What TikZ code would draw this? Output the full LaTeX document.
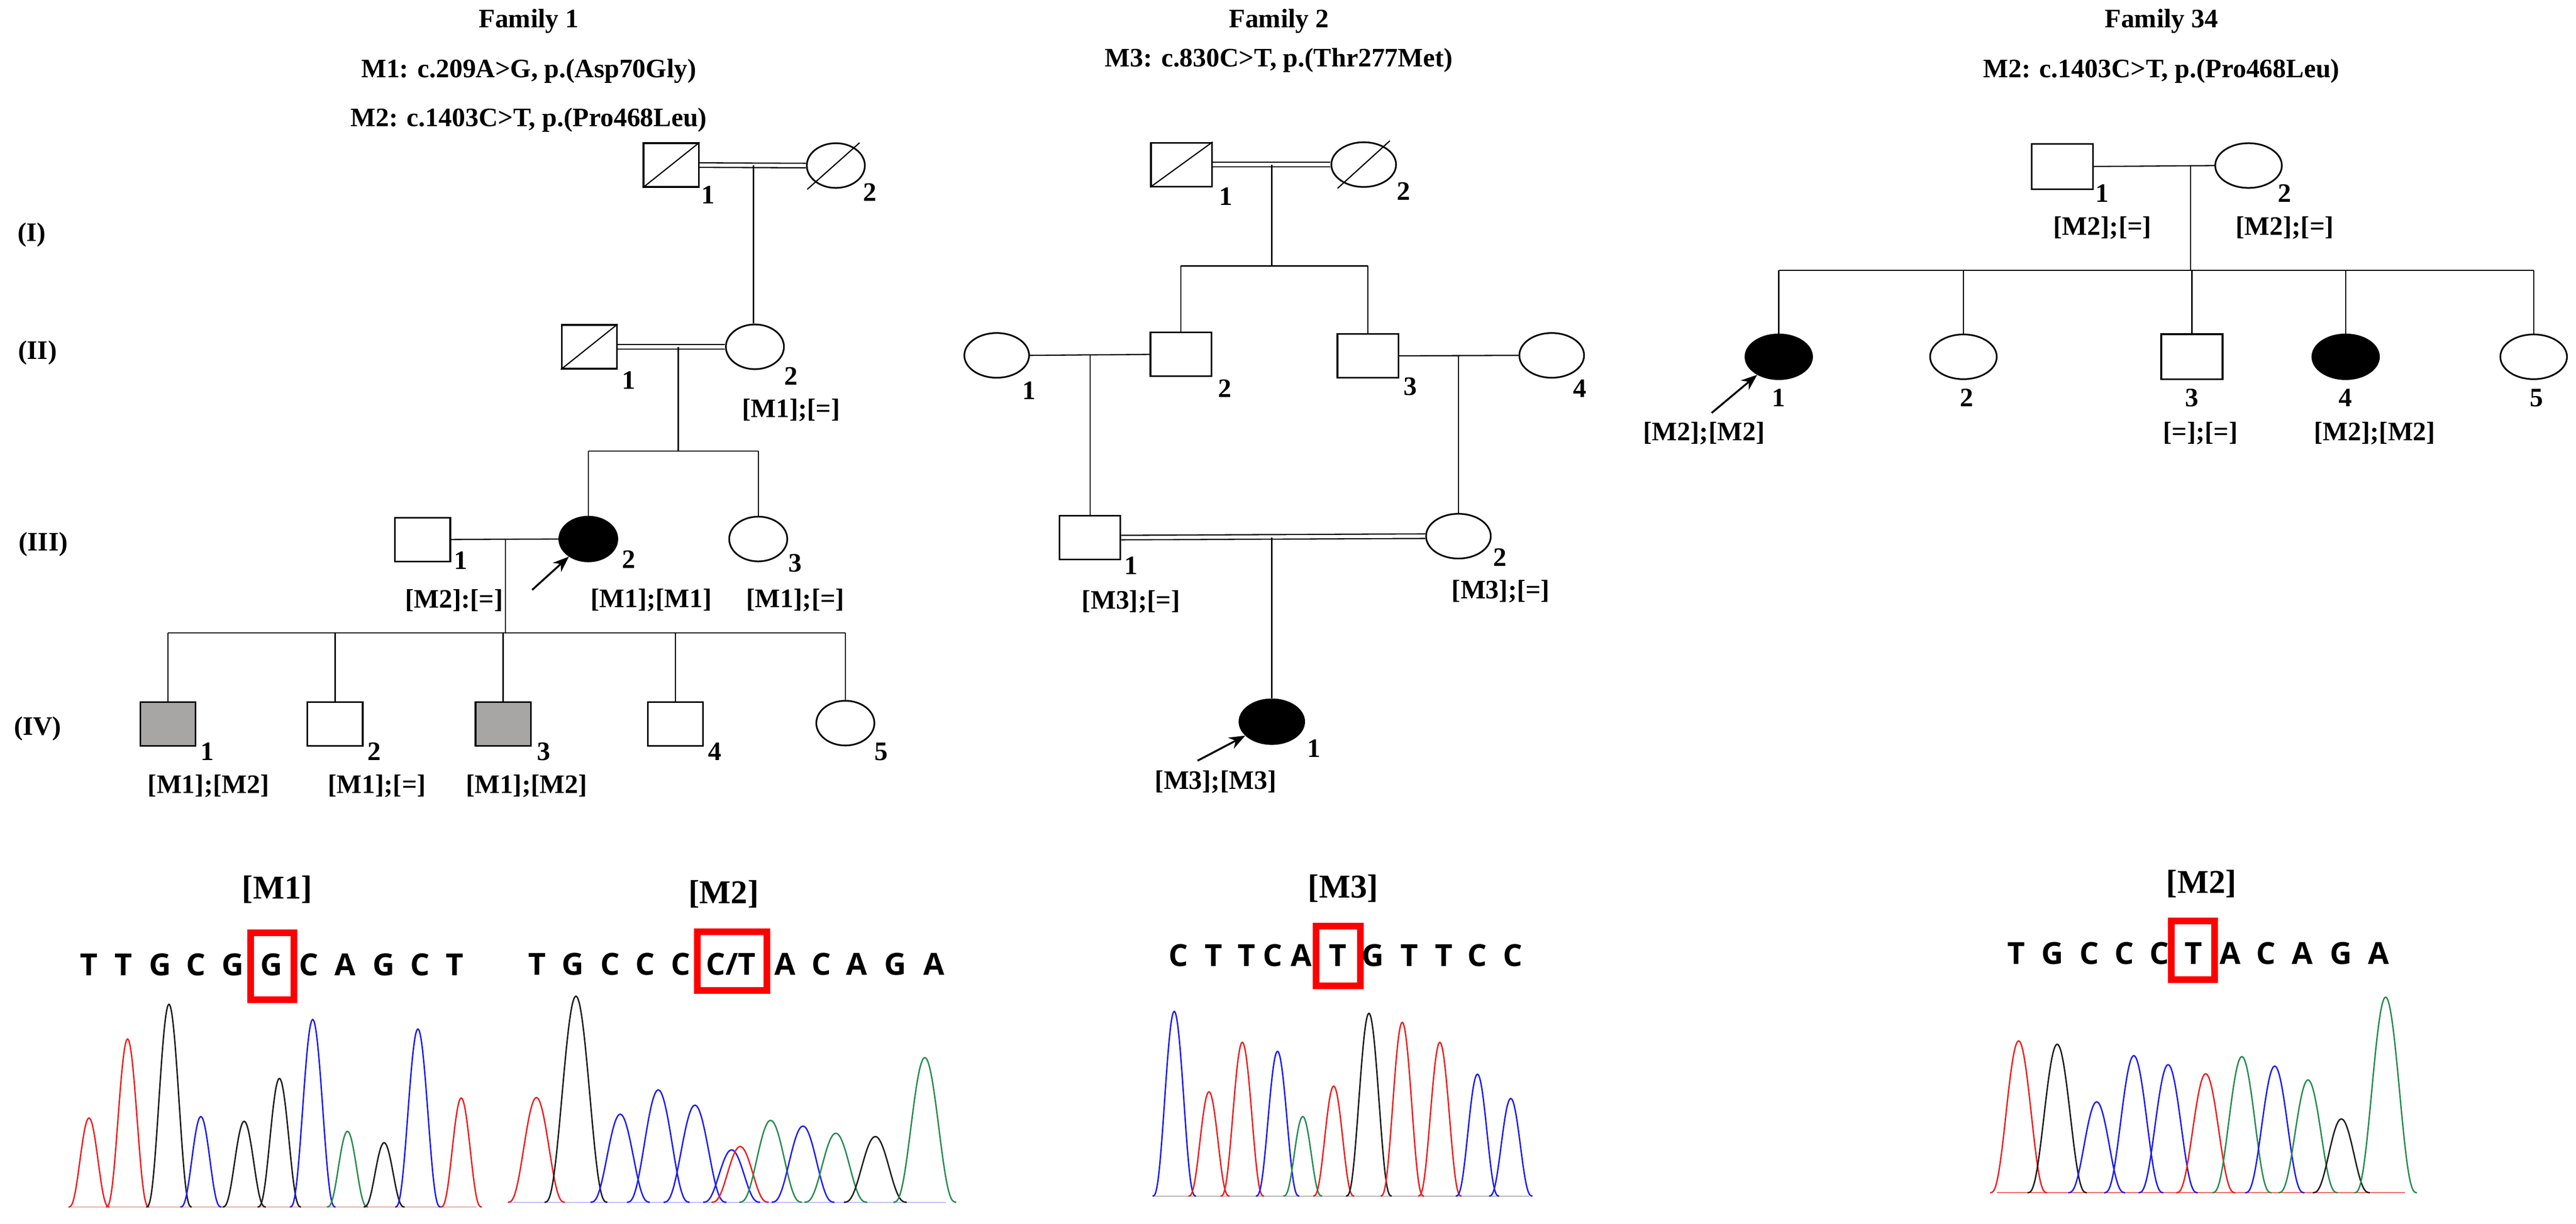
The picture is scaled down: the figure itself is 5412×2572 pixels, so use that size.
\documentclass[tikz,border=0pt]{standalone}
\usepackage{fontspec}
\setmainfont{Liberation Serif}
\newfontfamily\seqf{Open Sans}
\usetikzlibrary{shapes.geometric,arrows.meta,calc}
\definecolor{cr}{RGB}{235,35,35}
\definecolor{cb}{RGB}{30,30,240}
\definecolor{cg}{RGB}{40,140,80}
\definecolor{ck}{RGB}{30,30,30}
\definecolor{carrier}{RGB}{168,165,165}
\newcommand\chromPeak[5]{\draw[#1,line width=3pt,domain=-1:1,samples=41,smooth] plot ({#2+1.2*#5*\x},{#4-(#4-#3)*(1-\x*\x)^3});}
\begin{document}
\begin{tikzpicture}[x=1pt,y=-1pt,
  txt/.style={font=\fontsize{56}{60}\selectfont\bfseries,inner sep=0pt},
  hdr/.style={font=\fontsize{70}{74}\selectfont\bfseries,inner sep=0pt},
  seq/.style={font=\seqf\fontsize{64}{66}\selectfont\bfseries,inner sep=0pt,anchor=base},
  sym/.style={draw,line width=3.5pt,inner sep=0pt,fill=white},
  sqA/.style={sym,rectangle,minimum width=116pt,minimum height=92pt},
  ciA/.style={sym,ellipse,minimum width=122pt,minimum height=94pt},
  sqB/.style={sym,rectangle,minimum width=128pt,minimum height=92pt},
  ciB/.style={sym,ellipse,minimum width=136pt,minimum height=94pt},
  sqC/.style={sym,rectangle,minimum width=129pt,minimum height=95pt},
  ciC/.style={sym,ellipse,minimum width=140pt,minimum height=94pt},
  aff/.style={fill=black},
  car/.style={fill=carrier},
  ln/.style={line width=2.5pt},
  dbl/.style={double,double distance=7pt,line width=2.5pt},
  dec/.style={line width=2.5pt},
  arr/.style={line width=4pt,-{Stealth[length=34pt,width=26pt]}},
  box/.style={draw=red,line width=14pt}]
\useasboundingbox (0,0) rectangle (5412,2572);

% ---------------- Family 1 ----------------
\node[txt] (t1a) at (1111,45) {Family 1};
\node[txt] (t1b) at (1111,149) {M1: c.209A>G, p.(Asp70Gly)};
\node[txt] (t1c) at (1111,252) {M2: c.1403C>T, p.(Pro468Leu)};
\node[txt] (gI) at (67,494) {(I)};
\node[txt] (gII) at (79,741) {(II)};
\node[txt] (gIII) at (91,1144) {(III)};
\node[txt] (gIV) at (79,1532) {(IV)};

\node[sqA] (a11) at (1410,347) {};
\node[ciA] (a12) at (1756,348) {};
\node[sqA] (a21) at (1238,729) {};
\node[ciA] (a22) at (1586,729) {};
\node[sqA] (a31) at (888,1134) {};
\node[ciA,aff] (a32) at (1236,1133) {};
\node[ciA] (a33) at (1593,1133) {};
\node[sqA,car] (a41) at (353,1522) {};
\node[sqA] (a42) at (704,1522) {};
\node[sqA,car] (a43) at (1057,1522) {};
\node[sqA] (a44) at (1419,1522) {};
\node[ciA] (a45) at (1776,1520) {};

\draw[dec] (a11.south west) -- (a11.north east);
\draw[dec] ($(a12)+(-60,50)$) -- ($(a12)+(50,-48)$);
\draw[dec] (a21.south west) -- (a21.north east);

\draw[dbl] (a11.east) -- (a12.west);
\coordinate (j1) at (1583,347);
\draw[ln] (j1) -- (j1 |- a22.north);
\draw[dbl] (a21.east) -- (a22.west);
\coordinate (j2) at (1425,729);
\coordinate (s2) at (1425,948);
\draw[ln] (j2) -- (s2);
\draw[ln] (a32.north |- s2) -- (a33.north |- s2);
\draw[ln] (a32.north |- s2) -- (a32.north);
\draw[ln] (a33.north |- s2) -- (a33.north);
\draw[ln] (a31.east) -- (a32.west);
\coordinate (j3) at (1062,1134);
\coordinate (s3) at (1062,1330);
\draw[ln] (j3) -- (s3);
\draw[ln] (a41.north |- s3) -- (a45.north |- s3);
\foreach \n in {a41,a42,a43,a44,a45} \draw[ln] (\n.north |- s3) -- (\n.north);

\node[txt] (n11) at (1488,410) {1};
\node[txt] (n12) at (1827,404) {2};
\node[txt] (n21) at (1321,799) {1};
\node[txt] (n22) at (1662,791) {2};
\node[txt] (g22) at (1662,862) {[M1];[=]};
\node[txt] (n31) at (968,1178) {1};
\node[txt] (n32) at (1321,1176) {2};
\node[txt] (n33) at (1671,1184) {3};
\node[txt] (g31) at (954,1262) {[M2]:[=]};
\node[txt] (g32) at (1368,1262) {[M1];[M1]};
\node[txt] (g33) at (1671,1262) {[M1];[=]};
\node[txt] (n41) at (436,1580) {1};
\node[txt] (n42) at (786,1580) {2};
\node[txt] (n43) at (1142,1580) {3};
\node[txt] (n44) at (1502,1580) {4};
\node[txt] (n45) at (1851,1580) {5};
\node[txt] (g41) at (438,1652) {[M1];[M2]};
\node[txt] (g42) at (792,1652) {[M1];[=]};
\node[txt] (g43) at (1106,1652) {[M1];[M2]};
\coordinate (ar1) at (1118,1240);
\draw[arr] (ar1) -- (a32);

% ---------------- Family 2 ----------------
\node[txt] (t2a) at (2687,45) {Family 2};
\node[txt] (t2b) at (2687,127) {M3: c.830C>T, p.(Thr277Met)};
\node[sqB] (b11) at (2482,346) {};
\node[ciB] (b12) at (2865,346) {};
\node[ciB] (b21) at (2094,747) {};
\node[sqB] (b22) at (2481,745) {};
\node[sqB] (b23) at (2874,748) {};
\node[ciB] (b24) at (3260,747) {};
\node[sqB] (b31) at (2290,1130) {};
\node[ciB] (b32) at (3064,1127) {};
\node[ciB,aff] (b41) at (2672,1517) {};
\draw[dec] (b11.south west) -- (b11.north east);
\draw[dec] ($(b12)+(-55,50)$) -- ($(b12)+(55,-50)$);
\draw[dbl] (b11.east) -- (b12.west);
\coordinate (k1) at (2672,346);
\coordinate (k1s) at (2672,559);
\draw[ln] (k1) -- (k1s);
\draw[ln] (b22.north |- k1s) -- (b23.north |- k1s);
\draw[ln] (b22.north |- k1s) -- (b22.north);
\draw[ln] (b23.north |- k1s) -- (b23.north);
\draw[ln] (b21.east) -- (b22.west);
\draw[ln] (b23.east) -- (b24.west);
\coordinate (k2) at (2290,747);
\draw[ln] (k2) -- (b31.north);
\coordinate (k3) at (3064,747);
\draw[ln] (k3) -- (b32.north);
\draw[dbl] (b31.east) -- (b32.west);
\coordinate (k4) at (2672,1130);
\draw[ln] (k4) -- (b41.north);
\node[txt] (m11) at (2576,413) {1};
\node[txt] (m12) at (2949,402) {2};
\node[txt] (m21) at (2162,821) {1};
\node[txt] (m22) at (2573,817) {2};
\node[txt] (m23) at (2963,813) {3};
\node[txt] (m24) at (3319,817) {4};
\node[txt] (m31) at (2376,1189) {1};
\node[txt] (m32) at (3151,1172) {2};
\node[txt] (m41) at (2761,1573) {1};
\node[txt] (h31) at (2376,1265) {[M3];[=]};
\node[txt] (h32) at (3153,1243) {[M3];[=]};
\node[txt] (h41) at (2554,1644) {[M3];[M3]};
\coordinate (ar2) at (2516,1599);
\draw[arr] (ar2) -- (b41);

% ---------------- Family 34 ----------------
\node[txt] (t3a) at (4541,45) {Family 34};
\node[txt] (t3b) at (4541,149) {M2: c.1403C>T, p.(Pro468Leu)};
\node[sqC] (c11) at (4333,350) {};
\node[ciC] (c12) at (4724,348) {};
\node[ciC,aff] (c21) at (3737,750) {};
\node[ciC] (c22) at (4125,750) {};
\node[sqC] (c23) at (4605,750) {};
\node[ciC,aff] (c24) at (4928,750) {};
\node[ciC] (c25) at (5323,750) {};
\draw[ln] (c11.east) -- (c12.west);
\coordinate (l1) at (4602,350);
\coordinate (l1s) at (4602,568);
\draw[ln] (l1) -- (l1s);
\draw[ln] (c21.north |- l1s) -- (c25.north |- l1s);
\foreach \n in {c21,c22,c23,c24,c25} \draw[ln] (\n.north |- l1s) -- (\n.north);
\node[txt] (o11) at (4417,406) {1};
\node[txt] (o12) at (4800,406) {2};
\node[txt] (p11) at (4417,479) {[M2];[=]};
\node[txt] (p12) at (4800,479) {[M2];[=]};
\node[txt] (o21) at (3737,836) {1};
\node[txt] (o22) at (4132,836) {2};
\node[txt] (o23) at (4605,836) {3};
\node[txt] (o24) at (4928,836) {4};
\node[txt] (o25) at (5329,836) {5};
\node[txt] (p21) at (3580,911) {[M2];[M2]};
\node[txt] (p23) at (4623,911) {[=];[=]};
\node[txt] (p24) at (4989,911) {[M2];[M2]};
\coordinate (ar3) at (3596,868);
\draw[arr] (ar3) -- (c21);

% ---------------- Chromatograms ----------------
% M1
\node[hdr] (hM1) at (582,1870) {[M1]};
\foreach \x/\c [count=\i] in {187/T,259/T,337/G,412/C,489/G,570/G,649/C,725/A,806/G,883/C,955/T}
  \node[seq,name=sa\i] at (\x,2051) {\c};
\draw[box] (527,1961) rectangle (618,2101);
\draw[cr!40,line width=2pt] (152,2537) -- (1001,2537);
\chromPeak{cr}{187}{2350}{2537}{36}
\chromPeak{cr}{268}{2184}{2537}{38}
\chromPeak{ck}{355}{2111}{2537}{40}
\chromPeak{cb}{422}{2347}{2537}{36}
\chromPeak{ck}{513}{2357}{2537}{38}
\chromPeak{ck}{587}{2267}{2537}{38}
\chromPeak{cb}{657}{2143}{2537}{40}
\chromPeak{cg}{730}{2378}{2537}{36}
\chromPeak{ck}{807}{2402}{2537}{36}
\chromPeak{cb}{878}{2163}{2537}{40}
\chromPeak{cr}{969}{2308}{2537}{36}

% M2 family 1
\node[hdr] (hM2a) at (1520,1879) {[M2]};
\foreach \x/\c [count=\i] in {1129/T,1204/G,1282/C,1356/C,1430/C,1536/{C/T},1649/A,1726/C,1800/A,1881/G,1962/A}
  \node[seq,name=sb\i] at (\x,2049) {\c};
\draw[box] (1465,1959) rectangle (1611,2082);
\draw[cb!30,line width=2pt] (1070,2527) -- (1987,2527);
\chromPeak{cr}{1127}{2307}{2527}{50}
\chromPeak{ck}{1210}{2094}{2527}{55}
\chromPeak{cb}{1303}{2342}{2527}{52}
\chromPeak{cb}{1383}{2291}{2527}{55}
\chromPeak{cb}{1460}{2323}{2527}{55}
\chromPeak{cb}{1537}{2417}{2527}{50}
\chromPeak{cr}{1555}{2410}{2527}{50}
\chromPeak{cg}{1619}{2355}{2527}{55}
\chromPeak{cb}{1687}{2367}{2527}{55}
\chromPeak{cg}{1756}{2382}{2527}{55}
\chromPeak{ck}{1839}{2389}{2527}{55}
\chromPeak{cg}{1943}{2223}{2527}{55}

% M3
\node[hdr] (hM3) at (2822,1868) {[M3]};
\foreach \x/\c [count=\i] in {2476/C,2550/T,2619/T,2674/C,2734/A,2811/T,2885/G,2961/T,3033/T,3104/C,3178/C}
  \node[seq,name=sc\i] at (\x,2031) {\c};
\draw[box] (2765,1947) rectangle (2858,2072);
\draw[gray!60,line width=2pt] (2423,2514) -- (3213,2514);
\chromPeak{cb}{2467}{2126}{2514}{38}
\chromPeak{cr}{2540}{2295}{2514}{36}
\chromPeak{cr}{2610}{2191}{2514}{38}
\chromPeak{cb}{2684}{2210}{2514}{38}
\chromPeak{cg}{2737}{2347}{2514}{34}
\chromPeak{cr}{2802}{2283}{2514}{36}
\chromPeak{ck}{2876}{2130}{2514}{40}
\chromPeak{cr}{2946}{2149}{2514}{38}
\chromPeak{cr}{3025}{2191}{2514}{38}
\chromPeak{cb}{3104}{2258}{2514}{38}
\chromPeak{cb}{3174}{2309}{2514}{38}

% M2 family 34
\node[hdr] (hM2b) at (4625,1858) {[M2]};
\foreach \x/\c [count=\i] in {4236/T,4312/G,4389/C,4463/C,4537/C,4608/T,4685/A,4761/C,4837/A,4918/G,4997/A}
  \node[seq,name=sd\i] at (\x,2027) {\c};
\draw[box] (4562,1936) rectangle (4653,2059);
\draw[cr!70,line width=2pt] (4195,2507) -- (5053,2507);
\chromPeak{cr}{4241}{2188}{2507}{50}
\chromPeak{ck}{4322}{2195}{2507}{52}
\chromPeak{cb}{4405}{2316}{2507}{50}
\chromPeak{cb}{4483}{2219}{2507}{52}
\chromPeak{cb}{4555}{2238}{2507}{52}
\chromPeak{cr}{4634}{2257}{2507}{52}
\chromPeak{cg}{4710}{2221}{2507}{52}
\chromPeak{cb}{4779}{2241}{2507}{52}
\chromPeak{cg}{4849}{2270}{2507}{52}
\chromPeak{ck}{4919}{2352}{2507}{50}
\chromPeak{cg}{5012}{2096}{2507}{55}
\end{tikzpicture}
\end{document}
